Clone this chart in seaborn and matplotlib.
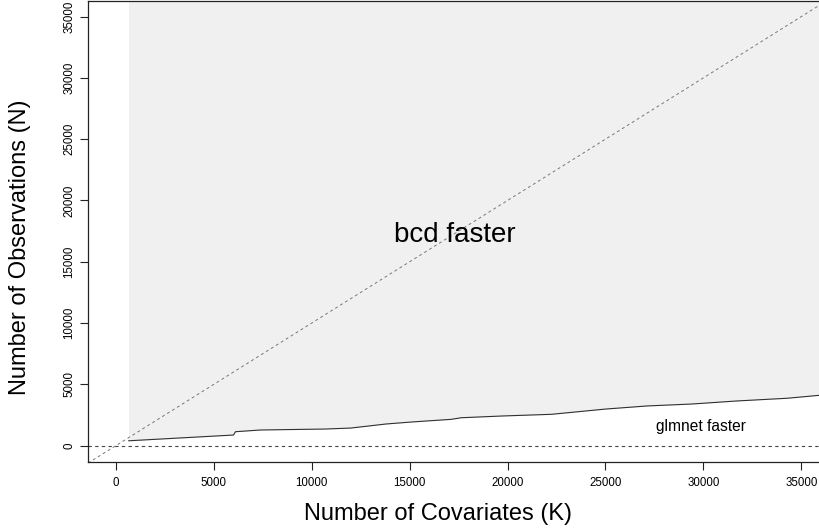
import numpy as np
import pandas as pd
import matplotlib
matplotlib.use("Agg")
import matplotlib.pyplot as plt
import seaborn as sns

# boundary where both solvers take the same time
covariates = [650, 6010, 6110, 7390, 10720, 12000, 13800, 15080, 17130, 17640,
              19690, 22250, 25020, 27120, 29420, 31730, 34290, 36200]
observations = [400, 870, 1140, 1280, 1360, 1440, 1770, 1930, 2150, 2280,
                2420, 2560, 2990, 3240, 3400, 3650, 3870, 4150]

x_ticks = [0, 5000, 10000, 15000, 20000, 25000, 30000, 35000]
y_ticks = [0, 5000, 10000, 15000, 20000, 25000, 30000, 35000]
x_limits = (-1420, 36080)
y_limits = (-1330, 36270)

df = pd.DataFrame({"K": covariates, "N": observations})

sns.set_style("ticks")
plt.rcParams['font.family'] = ['Liberation Sans', 'DejaVu Sans']
plt.rcParams['text.color'] = 'black'

fig = plt.figure(figsize=(8.2, 5.29), dpi=100)
ax = fig.add_axes([88 / 820, 67 / 529, 1 - 88 / 820 + 0.003, 461 / 529])

# shaded region where bcd wins
ax.fill_between(df["K"], df["N"], y_limits[1] + 1000, color="#f0f0f0",
                linewidth=0, zorder=1)
sns.lineplot(data=df, x="K", y="N", ax=ax, color="#303030", linewidth=0.8,
             zorder=3)

# reference lines
ax.plot(x_limits, x_limits, linestyle=(0, (3, 3)), color="#777777",
        linewidth=0.7, zorder=2)
ax.axhline(0, linestyle=(0, (3, 3)), color="#444444", linewidth=0.8, zorder=2)

ax.text(17300, 17150, "bcd faster", fontsize=20, ha="center", va="center",
        color="black")
ax.text(29900, 1525, "glmnet faster", fontsize=11.2, ha="center", va="center",
        color="black")

ax.set_xlim(*x_limits)
ax.set_ylim(*y_limits)
ax.set_xticks(x_ticks)
ax.set_yticks(y_ticks)
ax.set_xticklabels([str(t) for t in x_ticks], fontsize=8.3)
ax.set_yticklabels([str(t) for t in y_ticks], fontsize=8.3, rotation=90,
                   va="center")
ax.tick_params(axis="both", length=6, width=0.8, color="#222222",
               labelcolor="black", pad=5)
ax.tick_params(axis="y", pad=3)
ax.set_xlabel("")
ax.set_ylabel("")
for side in ["left", "bottom", "top", "right"]:
    ax.spines[side].set_linewidth(0.9)
    ax.spines[side].set_color("#222222")

fig.text(438 / 820, 1 - 514 / 529, "Number of Covariates (K)", fontsize=17,
         ha="center", va="center")
fig.text(20 / 820, 1 - 247 / 529, "Number of Observations (N)", fontsize=17,
         ha="center", va="center", rotation=90)

fig.savefig("out.png", dpi=100)
